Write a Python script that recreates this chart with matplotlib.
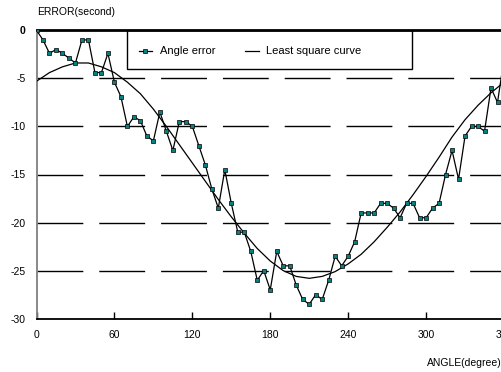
import matplotlib
matplotlib.use("Agg")
import matplotlib.pyplot as plt
from matplotlib.patches import Rectangle
import numpy as np

plt.rcParams["font.family"] = ["Liberation Sans", "DejaVu Sans"]

# measured angle error, every 5 degrees
angles = np.arange(0, 365, 5)
errors = [0, -1, -2.4, -2, -2.4, -2.9, -3.4, -1, -1, -4.4,
          -4.4, -2.4, -5.4, -6.9, -10, -9, -9.4, -11, -11.5, -8.5,
          -10.5, -12.5, -9.5, -9.5, -10, -12, -14, -16.5, -18.5, -14.5,
          -18, -21, -21, -23, -26, -25, -27, -23, -24.5, -24.5,
          -26.5, -28, -28.5, -27.5, -28, -26, -23.5, -24.5, -23.5, -22,
          -19, -19, -19, -18, -18, -18.5, -19.5, -18, -18, -19.5,
          -19.5, -18.5, -18, -15, -12.5, -15.5, -11, -10, -10, -10.5,
          -6, -7.5, -3]

# least square curve, every 10 degrees
curve_angles = np.arange(0, 370, 10)
curve_vals = [-5.3, -4.4, -3.8, -3.4, -3.4, -3.8, -4.4, -5.4, -6.6, -8.2,
              -10.0, -11.9, -13.8, -15.7, -17.6, -19.4, -21.1, -22.7, -24.0, -25.0,
              -25.6, -25.8, -25.6, -25.1, -24.3, -23.3, -22.0, -20.5, -18.9, -17.1,
              -15.2, -13.2, -11.1, -9.3, -7.8, -6.5, -5.4]

xticks = [0, 60, 120, 180, 240, 300, 360]
yticks = [0, -5, -10, -15, -20, -25, -30]

W, H = 502, 372
fig = plt.figure(figsize=(W / 100, H / 100), dpi=100)
x0, x1 = 36.5, 504.0
y0, y1 = 30.3, 318.7
ax = fig.add_axes([x0 / W, (H - y1) / H, (x1 - x0) / W, (y1 - y0) / H])

# dashed grid lines
for yv in yticks[1:-1]:
    ax.axhline(yv, color="black", linewidth=1.0, dashes=(33, 11.5), zorder=1)

ax.plot(curve_angles, curve_vals, color="black", linewidth=0.9,
        label="Least square curve", zorder=3)
ax.plot(angles, errors, color="black", linewidth=0.9, marker="s",
        markersize=2.8, markerfacecolor="#0a7f7f", markeredgecolor="black",
        markeredgewidth=0.5, label="Angle error", zorder=4)

ax.set_xlim(0, 360)
ax.set_ylim(-30, 0)
ax.set_xticks(xticks)
ax.set_xticklabels([str(v) for v in xticks], fontsize=7.5)
ax.set_yticks(yticks)
ax.set_yticklabels([str(v) for v in yticks], fontsize=7.5)
ax.get_yticklabels()[0].set_fontweight("bold")
ax.tick_params(axis="x", direction="in", length=5, width=1, pad=8)
ax.tick_params(axis="y", length=0, pad=8)

ax.spines["right"].set_visible(False)
ax.spines["top"].set_linewidth(2.0)
ax.spines["bottom"].set_linewidth(1.3)
ax.spines["left"].set_color("#7f7f7f")
ax.spines["left"].set_linewidth(1.3)

# legend box
lx0 = (127.3 - x0) / (x1 - x0)
lx1 = (412.3 - x0) / (x1 - x0)
ly0 = (y1 - 69.0) / (y1 - y0)
ax.add_patch(Rectangle((lx0, ly0), lx1 - lx0, 1 - ly0, transform=ax.transAxes,
                       fill=False, edgecolor="black", linewidth=1.0, zorder=5))
h, l = ax.get_legend_handles_labels()
leg = ax.legend(h[::-1], l[::-1], ncol=2, frameon=False, fontsize=8,
                loc="center left",
                bbox_to_anchor=((133 - x0) / (x1 - x0), (y1 - 51.5) / (y1 - y0)),
                borderpad=0, handlelength=1.2, handletextpad=0.7,
                columnspacing=2.7)

fig.text(37 / W, 1 - 12 / H, "ERROR(second)", fontsize=7.5, ha="left", va="center")
fig.text(1.0, 1 - 363 / H, "ANGLE(degree)", fontsize=7.5, ha="right", va="center")

fig.savefig("out.png", dpi=100)
